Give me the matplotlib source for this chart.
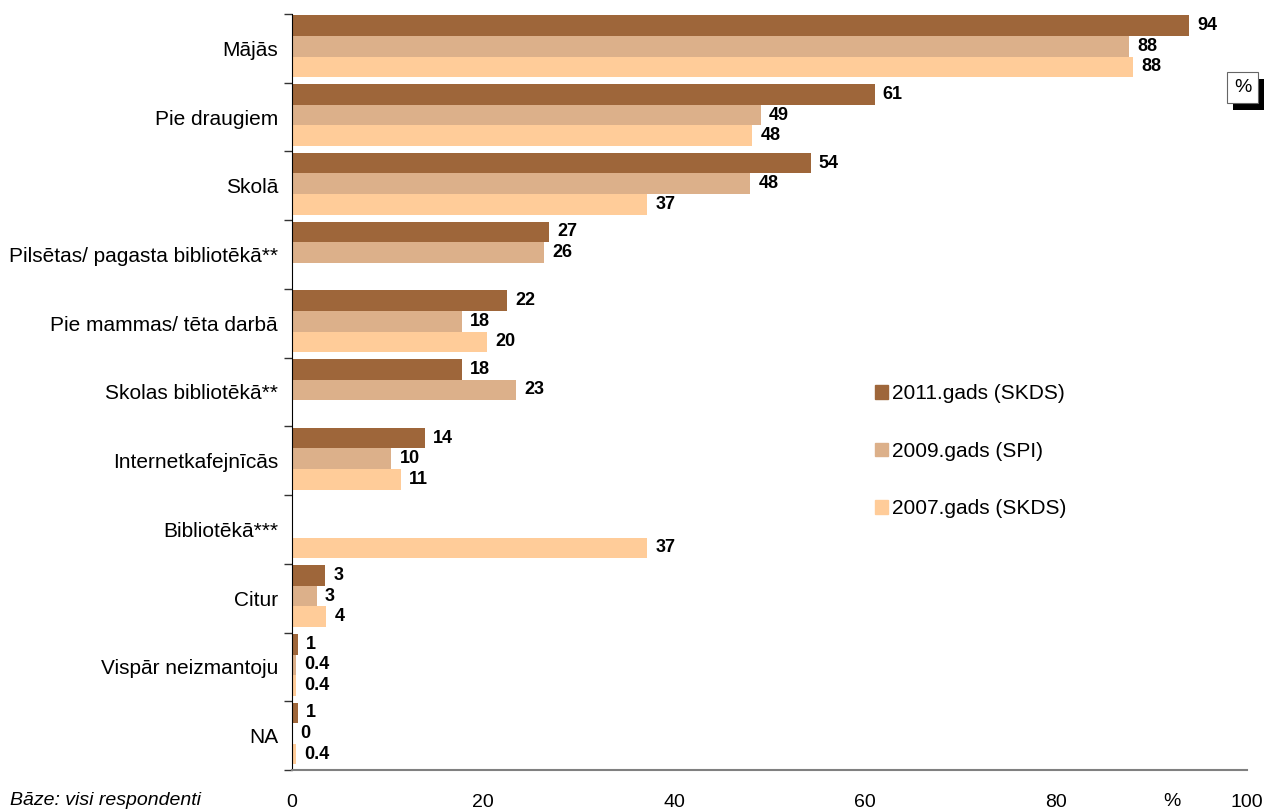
import matplotlib
matplotlib.use("Agg")
import matplotlib.pyplot as plt
import matplotlib.patheffects as pe
import numpy as np

plt.rcParams['font.family'] = ['Liberation Sans', 'DejaVu Sans']

categories = ["Mājās", "Pie draugiem", "Skolā", "Pilsētas/ pagasta bibliotēkā**",
              "Pie mammas/ tēta darbā", "Skolas bibliotēkā**", "Internetkafejnīcās",
              "Bibliotēkā***", "Citur", "Vispār neizmantoju", "NA"]
series_names = ["2011.gads (SKDS)", "2009.gads (SPI)", "2007.gads (SKDS)"]
colors = ["#9E663A", "#DCB08A", "#FFCC99"]

# bar lengths (None = no bar)
v2011 = [93.9, 61.0, 54.3, 26.9, 22.5, 17.8, 13.9, None, 3.5, 0.6, 0.6]
v2009 = [87.6, 49.1, 48.0, 26.4, 17.8, 23.5, 10.4, None, 2.6, 0.4, 0.0]
v2007 = [88.1, 48.2, 37.2, None, 20.4, None, 11.4, 37.2, 3.6, 0.4, 0.4]
# printed value labels
l2011 = ["94", "61", "54", "27", "22", "18", "14", None, "3", "1", "1"]
l2009 = ["88", "49", "48", "26", "18", "23", "10", None, "3", "0.4", "0"]
l2007 = ["88", "48", "37", None, "20", None, "11", "37", "4", "0.4", "0.4"]

values = [v2011, v2009, v2007]
labels = [l2011, l2009, l2007]

fig = plt.figure(figsize=(12.66, 8.11), dpi=100)
ax = fig.add_axes([0.2306, 0.0506, 0.7544, 0.9321])

h = 0.3
handles = []
for k in range(3):
    for i in range(len(categories)):
        v = values[k][i]
        y = i + 0.17 + k * h
        if v is None:
            continue
        ax.barh(y, v, height=h, color=colors[k], edgecolor='none')
        if labels[k][i] is not None:
            ax.annotate(labels[k][i], (v, y), xytext=(6, 0), textcoords='offset points',
                        va='center', ha='left', fontsize=13, fontweight='bold')
    handles.append(plt.Rectangle((0, 0), 1, 1, color=colors[k]))

ax.set_ylim(len(categories), 0)
ax.set_xlim(0, 100)
ax.set_yticks(np.arange(len(categories)) + 0.5)
ax.set_yticklabels(categories, fontsize=15)
ax.set_yticks(np.arange(len(categories) + 1), minor=True)
ax.tick_params(axis='y', which='major', length=0, pad=10)
ax.tick_params(axis='y', which='minor', length=6, width=1, color='#333333')
ax.set_xticks([0, 20, 40, 60, 80, 100])
ax.tick_params(axis='x', length=0, pad=17, labelsize=14)

ax.spines['top'].set_visible(False)
ax.spines['right'].set_visible(False)
ax.spines['bottom'].set_color('#808080')
ax.spines['bottom'].set_linewidth(1.5)
ax.spines['left'].set_color('black')

ax.legend(handles, series_names, loc='upper left', bbox_to_anchor=(0.591, 0.535),
          frameon=False, fontsize=15, labelspacing=1.85, handlelength=0.6,
          handleheight=0.6, handletextpad=0.2)

fig.text(0.926, 0.012, "%", fontsize=14, ha='center', va='center')
fig.text(0.008, 0.002, "Bāze: visi respondenti", fontsize=14, style='italic',
         ha='left', va='bottom')

t = fig.text(0.9815, 0.892, "%", fontsize=14, ha='center', va='center',
             bbox=dict(boxstyle='square,pad=0.35', fc='white', ec='#666666', lw=0.8))
t.get_bbox_patch().set_path_effects([
    pe.SimplePatchShadow(offset=(4, -5), shadow_rgbFace='black', alpha=1),
    pe.Normal()])

fig.savefig("out.png", dpi=100)
